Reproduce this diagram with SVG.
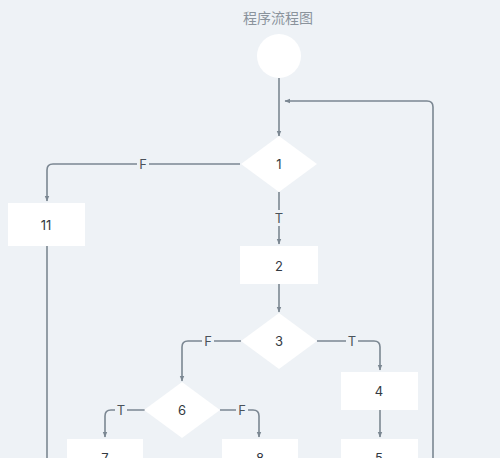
<svg xmlns="http://www.w3.org/2000/svg" width="500" height="458" viewBox="0 0 500 458">
<defs>
<marker id="arr" viewBox="0 0 6 6" refX="5" refY="3" markerWidth="6" markerHeight="6" orient="auto" markerUnits="userSpaceOnUse">
<path d="M0,0.8 L5.5,3 L0,5.2 z" fill="#7b8792"/>
</marker>
<style>
.bg{fill:#eef2f6}
.n{fill:#ffffff}
.t{font-family:"Inter","Noto Sans",sans-serif;font-size:13px;fill:#333a42;text-anchor:middle;dominant-baseline:central}
.l{font-family:"Inter","Noto Sans",sans-serif;font-size:13px;fill:#4a525a;text-anchor:middle;dominant-baseline:central}
.lb{fill:#eef2f6}
.c{fill:none;stroke:#7b8792;stroke-width:1.6;stroke-linejoin:round}
.title{font-family:"Noto Sans CJK SC","Noto Sans",sans-serif;font-size:14px;fill:#8a939c;text-anchor:middle}
</style>
</defs>
<rect class="bg" x="0" y="0" width="500" height="458"/>
<text class="title" x="278" y="23">程序流程图</text>
<g id="connectors">
<path class="c" d="M279,78 V136" marker-end="url(#arr)"/>
<path class="c" d="M433,458 V107 Q433,101 427,101 H285" marker-end="url(#arr)"/>
<path class="c" d="M240,164 H53 Q47,164 47,170 V201" marker-end="url(#arr)"/>
<rect class="lb" x="137" y="156" width="12" height="16"/>
<text class="l" x="143" y="164">F</text>
<path class="c" d="M279,192 V244" marker-end="url(#arr)"/>
<rect class="lb" x="273" y="210" width="12" height="16"/>
<text class="l" x="279" y="218">T</text>
<path class="c" d="M47,246 V458"/>
<path class="c" d="M279,284 V312" marker-end="url(#arr)"/>
<path class="c" d="M241,341 H188 Q182,341 182,347 V381" marker-end="url(#arr)"/>
<rect class="lb" x="202" y="333" width="12" height="16"/>
<text class="l" x="208" y="341">F</text>
<path class="c" d="M317,341 H374 Q380,341 380,347 V370" marker-end="url(#arr)"/>
<rect class="lb" x="346" y="333" width="12" height="16"/>
<text class="l" x="352" y="341">T</text>
<path class="c" d="M380,410 V437" marker-end="url(#arr)"/>
<path class="c" d="M145,410 H111 Q105,410 105,416 V437" marker-end="url(#arr)"/>
<rect class="lb" x="115" y="402" width="12" height="16"/>
<text class="l" x="121" y="410">T</text>
<path class="c" d="M220,410 H253 Q259,410 259,416 V437" marker-end="url(#arr)"/>
<rect class="lb" x="236" y="402" width="12" height="16"/>
<text class="l" x="242" y="410">F</text>
</g>
<g id="start"><circle class="n" cx="279" cy="56" r="22"/></g>
<g id="node1"><polygon class="n" points="279,136 317,164 279,192 241,164"/><text class="t" x="279" y="164">1</text></g>
<g id="node11"><rect class="n" x="8" y="203" width="77" height="43"/><text class="t" x="46" y="225">11</text></g>
<g id="node2"><rect class="n" x="240" y="246" width="78" height="38"/><text class="t" x="279" y="266">2</text></g>
<g id="node3"><polygon class="n" points="279,313 317,341 279,369 241,341"/><text class="t" x="279" y="341">3</text></g>
<g id="node4"><rect class="n" x="341" y="372" width="77" height="38"/><text class="t" x="379" y="391">4</text></g>
<g id="node6"><polygon class="n" points="182,382 220,410 182,438 144,410"/><text class="t" x="182" y="410">6</text></g>
<g id="node7"><rect class="n" x="67" y="439" width="76" height="38"/><text class="t" x="105" y="458">7</text></g>
<g id="node8"><rect class="n" x="222" y="439" width="76" height="38"/><text class="t" x="260" y="458">8</text></g>
<g id="node5"><rect class="n" x="341" y="439" width="77" height="38"/><text class="t" x="379" y="458">5</text></g>
</svg>
